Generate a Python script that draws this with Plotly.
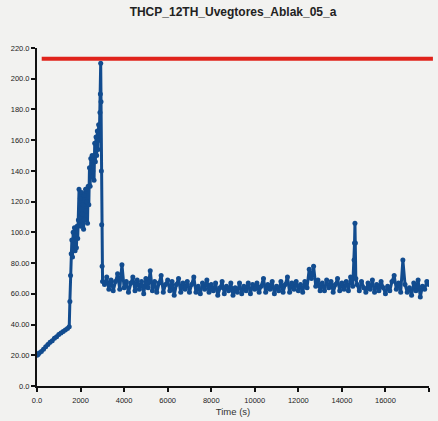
import plotly.graph_objects as go

title = "THCP_12TH_Uvegtores_Ablak_05_a"
x_title = "Time (s)"
limit_value = 213

x_tickvals = [0, 2000, 4000, 6000, 8000, 10000, 12000, 14000, 16000, 18000]
x_ticktext = ["0.0", "2000", "4000", "6000", "8000", "10000", "12000", "14000", "16000", "18000"]
y_tickvals = [0, 20, 40, 60, 80, 100, 120, 140, 160, 180, 200, 220]
y_ticktext = ["0.0", "20.00", "40.00", "60.00", "80.00", "100.0", "120.0", "140.0", "160.0", "180.0", "200.0", "220.0"]

# ramp phase
t_ramp = [0, 50, 100, 200, 300, 400, 500, 600, 700, 800, 900, 1000, 1100, 1200, 1300, 1400, 1480]
v_ramp = [20, 20.5, 21.5, 22.5, 24, 25.5, 27, 28.5, 29.5, 31, 32, 33.5, 34.5, 35.5, 36.5, 37.5, 38.5]

# fast rise to peak
t_rise = [1510, 1540, 1570, 1600, 1630, 1660, 1690, 1720, 1750, 1780, 1810, 1840, 1870, 1900,
          1930, 1960, 1990, 2020, 2050, 2080, 2110, 2140, 2170, 2200, 2230, 2260, 2290, 2320,
          2350, 2380, 2410, 2440, 2470, 2500, 2530, 2560, 2590, 2620, 2650, 2680, 2710, 2740,
          2770, 2800, 2830, 2860, 2890, 2910, 2925, 2940, 2955, 2970, 2990, 3010]
v_rise = [55, 72, 86, 95, 84, 100, 92, 103, 88, 98, 90, 104, 96, 108,
          128, 110, 122, 104, 126, 112, 118, 102, 124, 108, 128, 114, 120, 106,
          130, 118, 142, 130, 148, 136, 150, 140, 146, 134, 158, 146, 162, 150,
          166, 154, 170, 160, 178, 190, 210, 185, 140, 105, 78, 68]

# plateau phase
t_plat = [3100, 3200, 3300, 3400, 3500, 3600, 3700, 3800, 3900, 4000,
          4100, 4200, 4300, 4400, 4500, 4600, 4700, 4800, 4900, 5000,
          5100, 5200, 5300, 5400, 5500, 5600, 5700, 5800, 5900, 6000,
          6100, 6200, 6300, 6400, 6500, 6600, 6700, 6800, 6900, 7000,
          7100, 7200, 7300, 7400, 7500, 7600, 7700, 7800, 7900, 8000,
          8100, 8200, 8300, 8400, 8500, 8600, 8700, 8800, 8900, 9000,
          9100, 9200, 9300, 9400, 9500, 9600, 9700, 9800, 9900, 10000,
          10100, 10200, 10300, 10400, 10500, 10600, 10700, 10800, 10900, 11000,
          11100, 11200, 11300, 11400, 11500, 11600, 11700, 11800, 11900, 12000,
          12100, 12200, 12300, 12400, 12500, 12600, 12700, 12800, 12900, 13000,
          13100, 13200, 13300, 13400, 13500, 13600, 13700, 13800, 13900, 14000,
          14100, 14200, 14300, 14400, 14500, 14560, 14580, 14600, 14620, 14640, 14700, 14800, 14900, 15000,
          15100, 15200, 15300, 15400, 15500, 15600, 15700, 15800, 15900, 16000,
          16100, 16200, 16300, 16400, 16500, 16600, 16700, 16800, 16900, 17000,
          17100, 17200, 17300, 17400, 17500, 17600, 17700, 17800, 17900, 18000]
v_plat = [66, 71, 63, 69, 62, 68, 73, 63, 79, 64,
          68, 61, 67, 71, 62, 69, 63, 68, 60, 70,
          64, 75, 62, 68, 61, 67, 72, 61, 66, 69,
          62, 68, 59, 66, 70, 61, 67, 63, 68, 61,
          66, 71, 61, 65, 60, 67, 63, 69, 61, 66,
          62, 67, 59, 64, 68, 60, 65, 62, 67, 59,
          64, 61, 67, 60, 65, 62, 67, 60, 66, 63,
          67, 61, 65, 70, 61, 66, 63, 68, 60, 65,
          62, 68, 61, 66, 71, 61, 67, 63, 68, 62,
          66, 61, 68, 64, 76, 70, 78, 65, 69, 62,
          67, 62, 69, 64, 68, 61, 66, 70, 62, 67,
          63, 68, 62, 71, 65, 82, 93, 106, 93, 70, 66, 62, 68, 64,
          61, 67, 63, 69, 61, 66, 62, 68, 64, 60,
          65, 62, 68, 72, 63, 67, 61, 82, 66, 61,
          64, 59, 67, 62, 69, 58, 65, 63, 68, 66]

times = t_ramp + t_rise + t_plat
temps = v_ramp + v_rise + v_plat

blue = "#124c8f"
red = "#e0231b"
bg = "#f2f2f0"
font_family = "Liberation Sans, Arial, sans-serif"

fig = go.Figure()
fig.add_trace(go.Scatter(
    x=times, y=temps, mode="lines+markers",
    line=dict(color=blue, width=3),
    marker=dict(color=blue, size=5),
    showlegend=False, hoverinfo="skip", cliponaxis=True))

fig.add_shape(type="line", xref="paper", yref="y", x0=0.012, x1=1.01,
              y0=limit_value, y1=limit_value, line=dict(color=red, width=4))

axis_font = dict(family=font_family, size=7.5, color="#222222")

fig.update_layout(
    width=438, height=421,
    margin=dict(l=37, r=9, t=48, b=35, autoexpand=False),
    paper_bgcolor=bg, plot_bgcolor=bg,
    title=dict(text="<b>" + title + "</b>", x=0.532, xanchor="center", y=0.972, yanchor="middle",
               font=dict(family=font_family, size=12, color="#222222")),
    xaxis=dict(range=[0, 18000], tickvals=x_tickvals, ticktext=x_ticktext, automargin=False,
               showgrid=False, zeroline=False, showline=True, linecolor="#111111", linewidth=2,
               ticks="outside", ticklen=4, tickwidth=1.5, tickcolor="#111111",
               tickfont=axis_font, ticklabelstandoff=2,
               title=dict(text=x_title, font=dict(family=font_family, size=9.5, color="#333333"),
                          standoff=4)),
    yaxis=dict(range=[0, 220], tickvals=y_tickvals, ticktext=y_ticktext, automargin=False,
               showgrid=False, zeroline=False, showline=True, linecolor="#111111", linewidth=2,
               ticks="outside", ticklen=4, tickwidth=1.5, tickcolor="#111111",
               tickfont=axis_font),
)

fig.write_html("out.html", config={"displayModeBar": False},
               post_script="document.body.style.margin='0';document.body.style.background='#f2f2f0';")
